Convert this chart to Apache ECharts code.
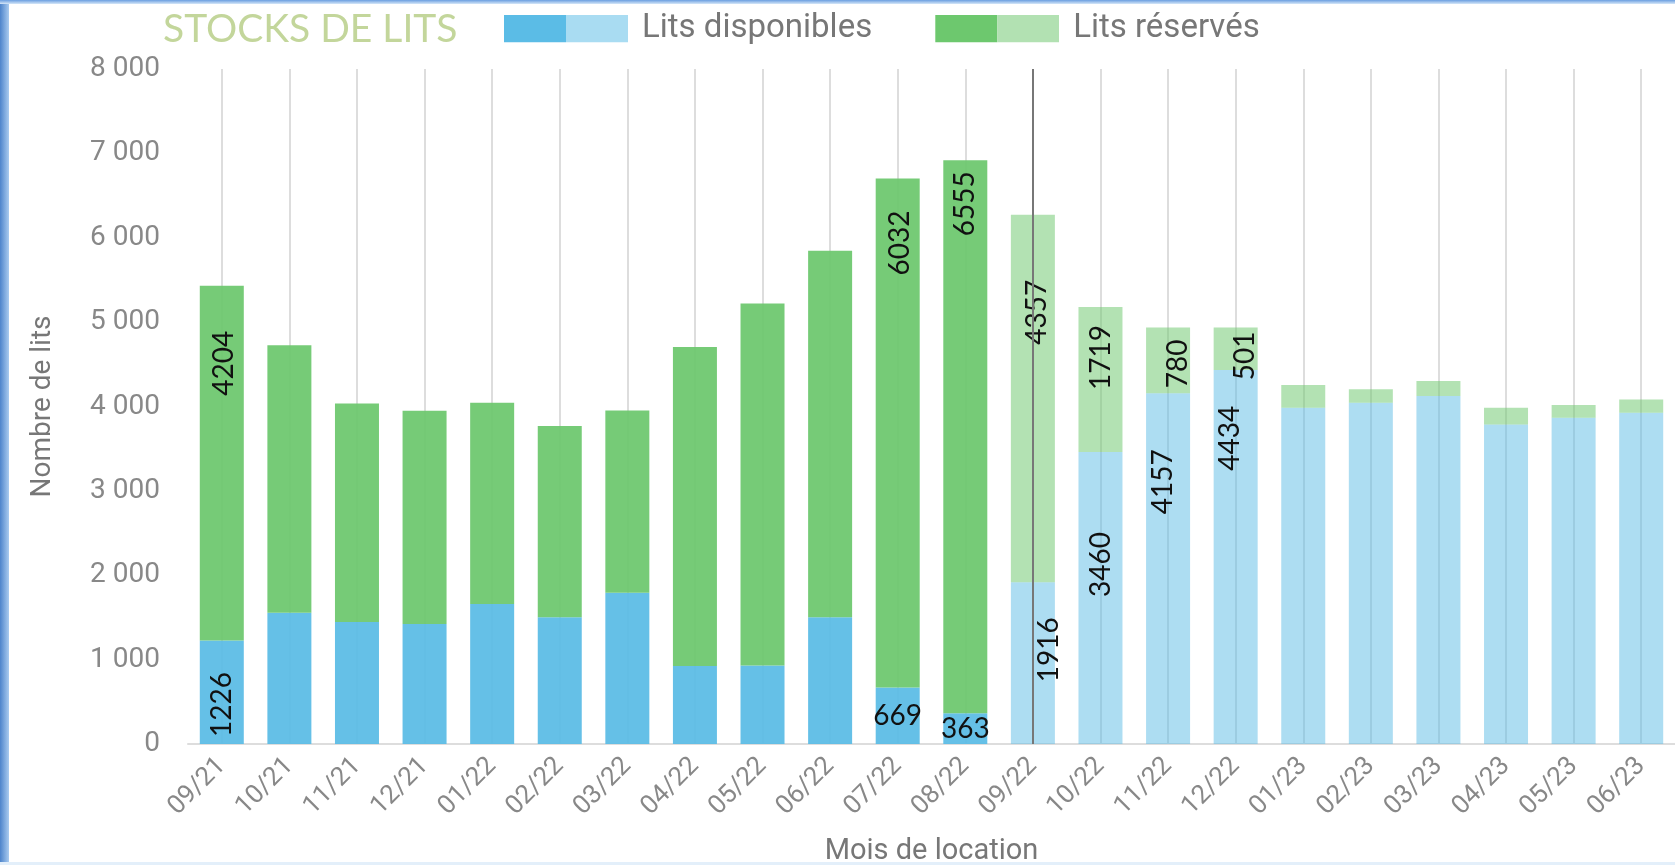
<!DOCTYPE html>
<html>
<head>
<meta charset="utf-8">
<title>Stocks de lits</title>
<script src="https://cdn.jsdelivr.net/npm/echarts@6/dist/echarts.min.js"></script>
<style>
  html, body { margin: 0; padding: 0; background: #fff; }
  #wrap { position: relative; width: 1675px; height: 865px; }
  #chart { width: 1675px; height: 865px; }
  .edge { position: absolute; pointer-events: none; }
  .edge.left { left: 0; top: 0; width: 9px; height: 865px; background: linear-gradient(to right, #4d84cb, #a9cbf0); }
  .edge.top { left: 0; top: 0; width: 1675px; height: 4px; background: linear-gradient(to bottom, #6a9ee0, #d6e7f8); }
  .edge.bottom { left: 0; bottom: 0; width: 1675px; height: 3px; background: #e3effa; }
</style>
</head>
<body>
<div id="wrap">
  <div id="chart"></div>
  <div class="edge left"></div>
  <div class="edge top"></div>
  <div class="edge bottom"></div>
</div>
<script>
  // months of rental
  const months = ['09/21', '10/21', '11/21', '12/21', '01/22', '02/22', '03/22', '04/22', '05/22', '06/22', '07/22',
    '08/22', '09/22', '10/22', '11/22', '12/22', '01/23', '02/23', '03/23', '04/23', '05/23', '06/23']
  // beds still available
  const available = [1226, 1556, 1445, 1422, 1659, 1501, 1793, 924, 931, 1501, 669,
    363, 1916, 3460, 4157, 4434, 3985, 4044, 4123, 3788, 3866, 3925]
  // beds booked
  const booked = [4204, 3171, 2592, 2527, 2385, 2267, 2160, 3780, 4290, 4345, 6032,
    6555, 4357, 1719, 780, 501, 269, 159, 178, 197, 151, 159]
  const currentMonth = '09/22'

  // where the written values sit in their bars: [kind, gap, x shift]
  const availablePlace = {
    0: ['bottom', 7, 0], 10: ['flat'], 11: ['flat'],
    12: ['top', 35, 16], 13: ['top', 80, 0], 14: ['top', 56, -5], 15: ['top', 36, -6]
  }
  const bookedPlace = {
    0: ['top', 45, 2], 10: ['top', 32, 2], 11: ['top', 11, 0], 12: ['top', 65, 4],
    13: ['top', 18, 0], 14: ['top', 12, 10], 15: ['top', 4, 9]
  }

  const blue = 'rgba(91,188,230,0.94)'
  const blueLight = 'rgba(91,188,230,0.5)'
  const green = 'rgba(109,200,110,0.94)'
  const greenLight = 'rgba(109,200,110,0.52)'
  const splitIdx = months.indexOf(currentMonth)

  function makeLabel (place) {
    if (!place) return { show: false }
    const base = { show: true, color: '#111', fontFamily: 'Lato', fontSize: 28 }
    if (place[0] === 'flat') return Object.assign(base, { position: 'inside' })
    // offset is taken in the rotated frame, so the sideways shift is its 2nd value
    if (place[0] === 'bottom') {
      return Object.assign(base, { position: 'insideBottom', distance: place[1], rotate: 90,
        align: 'left', verticalAlign: 'middle', offset: [0, place[2]] })
    }
    return Object.assign(base, { position: 'insideTop', distance: place[1], rotate: 90,
      align: 'right', verticalAlign: 'middle', offset: [0, place[2]] })
  }

  function makeIcon (dark, light) {
    const svg = '<svg xmlns="http://www.w3.org/2000/svg" width="124" height="28">' +
      '<rect width="62" height="28" fill="' + dark + '"/>' +
      '<rect x="62" width="62" height="28" fill="' + light + '"/></svg>'
    return 'image://data:image/svg+xml;utf8,' + encodeURIComponent(svg)
  }

  const fmt = v => String(v).replace(/\B(?=(\d{3})+(?!\d))/g, ' ')

  const chart = echarts.init(document.getElementById('chart'))
  const option = {
    animation: false,
    title: {
      text: 'STOCKS DE LITS',
      left: 163,
      top: 10,
      padding: 0,
      textStyle: { color: '#C3D69B', fontFamily: 'Lato', fontSize: 39, fontWeight: 'normal' }
    },
    legend: {
      left: 504,
      top: 12,
      padding: 0,
      itemWidth: 124,
      itemHeight: 28,
      itemGap: 63,
      textStyle: { color: '#777', fontFamily: 'Roboto', fontSize: 33, padding: [0, 0, 0, 9] },
      data: [
        { name: 'Lits disponibles', icon: makeIcon('#5BBCE6', '#A9DCF2') },
        { name: 'Lits réservés', icon: makeIcon('#6DC86E', '#B2E1B2') }
      ]
    },
    grid: { left: 188, right: 0, top: 69, bottom: 121, outerBoundsMode: 'none' },
    xAxis: {
      type: 'category',
      data: months,
      name: 'Mois de location',
      nameLocation: 'middle',
      nameGap: 93,
      nameTextStyle: { color: '#777', fontFamily: 'Roboto', fontSize: 29 },
      axisLine: { lineStyle: { color: '#ddd', width: 2 } },
      axisTick: { alignWithLabel: true, length: 20, lineStyle: { color: '#ddd' } },
      axisLabel: { rotate: 45, margin: 18, color: '#888', fontFamily: 'Roboto', fontSize: 26 },
      splitLine: { show: true, alignWithLabel: true, lineStyle: { color: '#ddd', width: 2 } }
    },
    yAxis: {
      type: 'value',
      min: 0,
      max: 8000,
      interval: 1000,
      name: 'Nombre de lits',
      nameLocation: 'middle',
      nameGap: 131,
      nameTextStyle: { color: '#777', fontFamily: 'Roboto', fontSize: 28 },
      axisLine: { show: false },
      axisTick: { show: false },
      splitLine: { show: false },
      axisLabel: { margin: 28, color: '#888', fontFamily: 'Roboto', fontSize: 28, formatter: fmt }
    },
    series: [
      {
        name: 'Lits disponibles',
        type: 'bar',
        stack: 'lits',
        barWidth: 44,
        itemStyle: { color: blue },
        data: available.map((v, i) => ({
          value: v,
          itemStyle: { color: i >= splitIdx ? blueLight : blue },
          label: makeLabel(availablePlace[i])
        })),
        markLine: {
          silent: true,
          symbol: ['none', 'none'],
          label: { show: false },
          lineStyle: { color: '#777', width: 2, type: 'solid' },
          data: [{ xAxis: currentMonth }]
        }
      },
      {
        name: 'Lits réservés',
        type: 'bar',
        stack: 'lits',
        barWidth: 44,
        itemStyle: { color: green },
        data: booked.map((v, i) => ({
          value: v,
          itemStyle: { color: i >= splitIdx ? greenLight : green },
          label: makeLabel(bookedPlace[i])
        }))
      }
    ]
  }
  chart.setOption(option)
</script>
</body>
</html>
